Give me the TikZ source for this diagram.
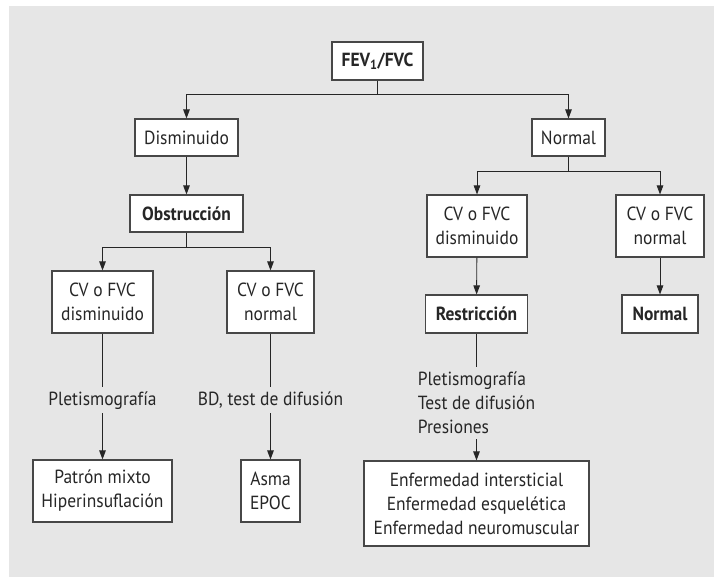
\documentclass[tikz,border=0pt]{standalone}
\usepackage{fontspec}
\setmainfont[FakeStretch=0.92]{PT Sans}
\usetikzlibrary{arrows.meta}
\definecolor{bggray}{HTML}{E6E6E6}
\definecolor{inkc}{HTML}{262626}
\newcommand{\dfont}{\fontsize{19}{24}\selectfont}
\tikzset{
  box/.style={draw=inkc!85, line width=1.1pt, fill=white, text=inkc, align=center, inner sep=0pt, font=\dfont},
  boldbox/.style={box, font=\bfseries\dfont},
  lbl/.style={text=inkc, inner sep=0pt, font=\dfont},
  conn/.style={draw=inkc, line width=0.9pt},
  arr/.style={conn, -{Triangle[length=9pt,width=6.5pt]}}
}
\begin{document}
\begin{tikzpicture}[x=1pt,y=-1pt]
\useasboundingbox (0,0) rectangle (714,577);
\fill[bggray] (9,6) rectangle (714,577);
% level 0
\node[boldbox, minimum width=91pt, minimum height=38pt] (fev) at (377.5,61) {FEV\textsubscript{1}/FVC};
% level 1
\node[box, minimum width=103pt, minimum height=37pt] (dis) at (186.5,137.5) {Disminuido};
\node[box, minimum width=73pt, minimum height=37pt] (nor) at (568.5,137.5) {Normal};
% obstruction branch
\node[boldbox, minimum width=113pt, minimum height=37pt] (obs) at (186.5,213.5) {Obstrucción};
\node[box, minimum width=101pt, minimum height=62pt] (cvdl) at (102.5,302) {CV o FVC\\disminuido};
\node[box, minimum width=87pt, minimum height=62pt] (cvnl) at (270.5,302) {CV o FVC\\normal};
\node[lbl, text height=14pt, text depth=4pt, outer sep=4pt] (pl1) at (102.5,400) {Pletismografía};
\node[lbl, text height=14pt, text depth=4pt, outer sep=4pt] (bd) at (270.5,400) {BD, test de difusión};
\node[box, minimum width=139pt, minimum height=62pt] (pm) at (102.5,491) {Patrón mixto\\Hiperinsuflación};
\node[box, minimum width=59pt, minimum height=62pt] (asma) at (270.5,491) {Asma\\EPOC};
% normal branch
\node[box, minimum width=100pt, minimum height=62pt] (cvdr) at (477,226) {CV o FVC\\disminuido};
\node[box, minimum width=88pt, minimum height=62pt] (cvnr) at (660,226) {CV o FVC\\normal};
\node[boldbox, minimum width=102pt, minimum height=38pt] (res) at (476.5,314) {Restricción};
\node[boldbox, minimum width=76pt, minimum height=38pt] (nn) at (660,314) {Normal};
\node[lbl, align=left, inner ysep=5pt] (tests) at (476.5,403) {Pletismografía\\Test de difusión\\Presiones};
\node[box, minimum width=225pt, minimum height=85pt] (enf) at (476.5,503.5) {Enfermedad intersticial\\Enfermedad esquelética\\Enfermedad neuromuscular};
% connectors
\draw[arr] (fev.south) -- ++(0,14) -| (dis.north);
\draw[arr] (fev.south) -- ++(0,14) -| (nor.north);
\draw[arr] (dis) -- (obs);
\draw[arr] (obs.south) -- ++(0,15) -| (cvdl.north);
\draw[arr] (obs.south) -- ++(0,15) -| (cvnl.north);
\draw[conn] (cvdl) -- (pl1);
\draw[arr] (pl1) -- (pm);
\draw[conn] (cvnl) -- (bd);
\draw[arr] (bd) -- (asma);
\draw[arr] (nor.south) -- ++(0,15) -| (cvdr.north);
\draw[arr] (nor.south) -- ++(0,15) -| (cvnr.north);
\draw[arr] (cvdr) -- (res);
\draw[arr] (cvnr) -- (nn);
\draw[conn] (res.south) -- (tests.north -| res.south);
\draw[arr] (tests.south -| enf.north) -- (enf.north);
\end{tikzpicture}
\end{document}
